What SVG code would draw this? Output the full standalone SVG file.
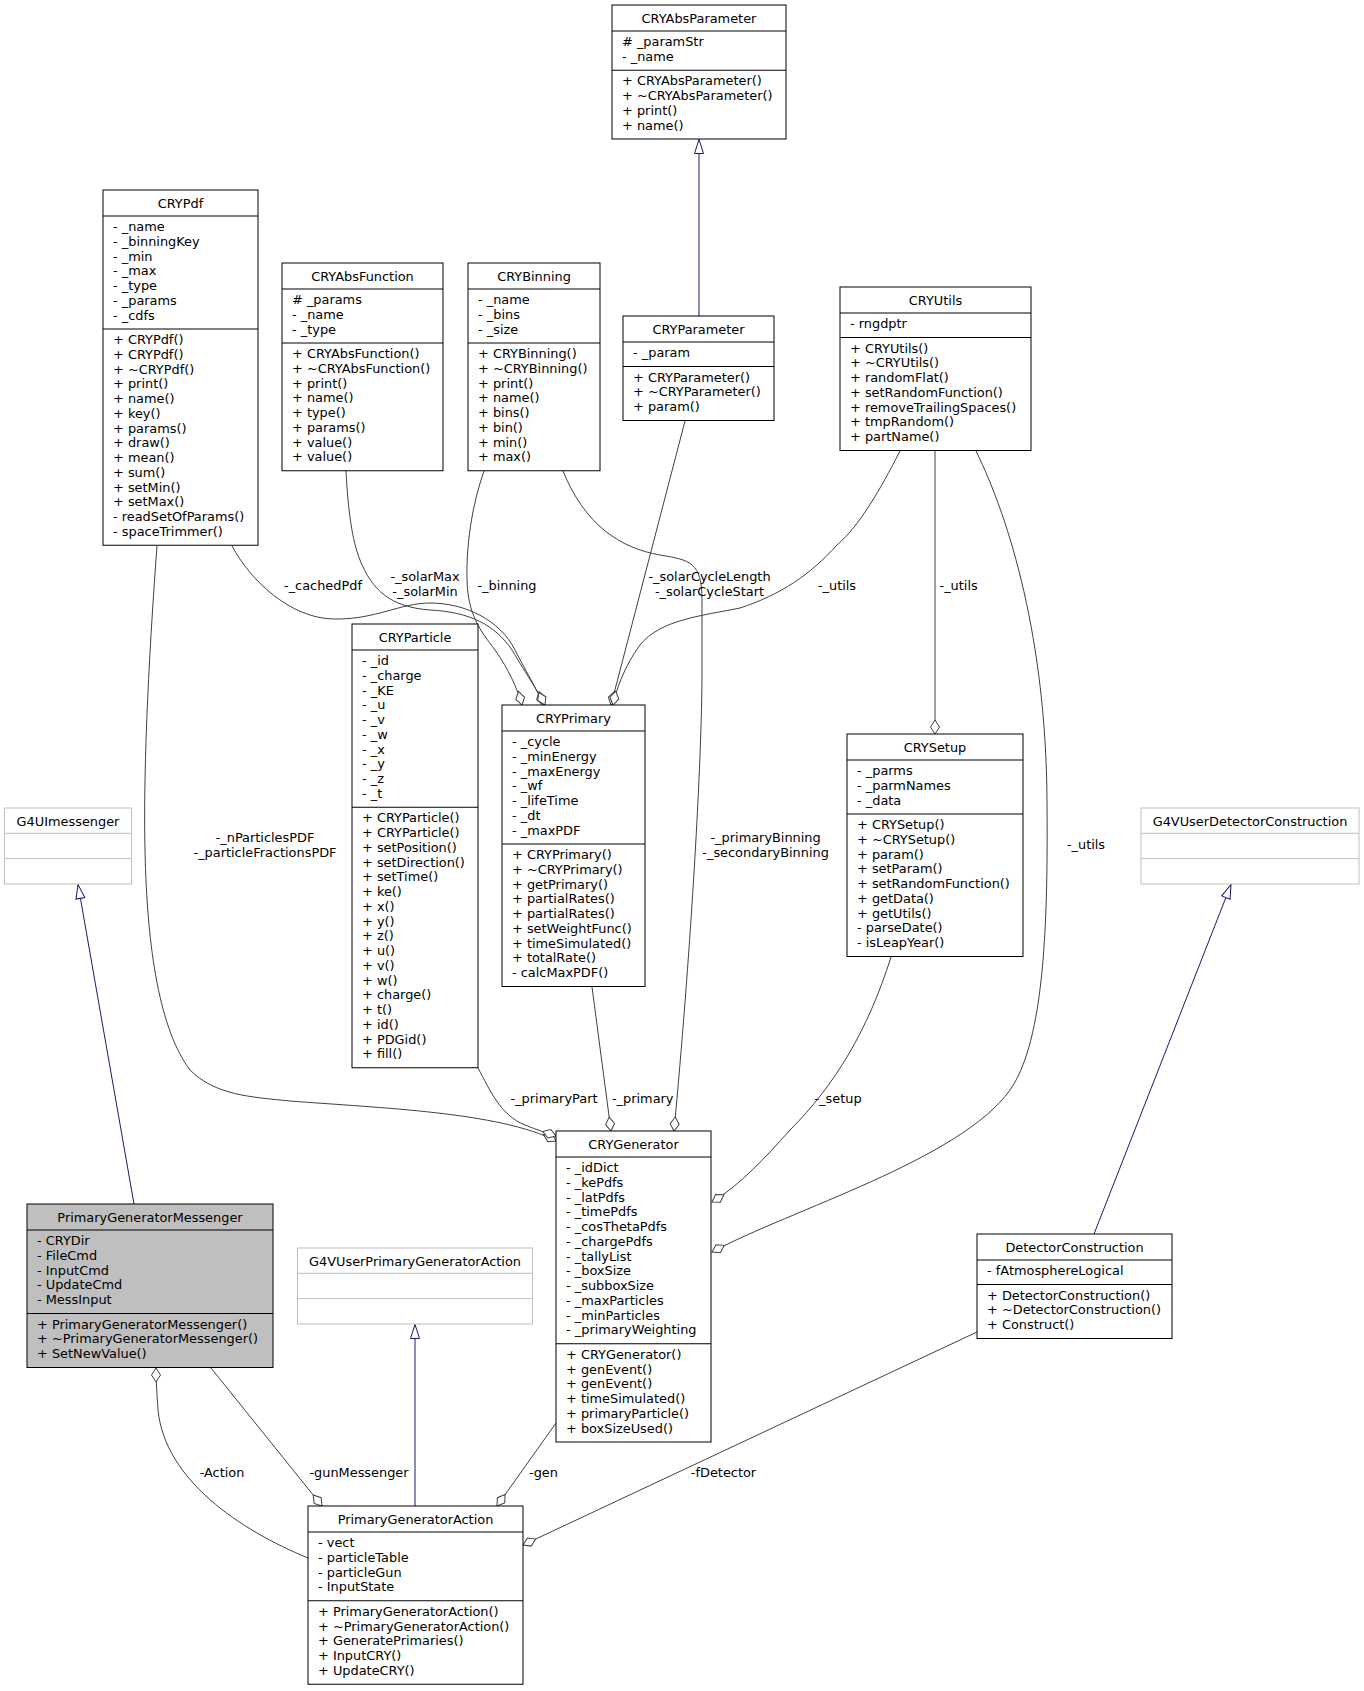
<svg xmlns="http://www.w3.org/2000/svg" width="1364" height="1691" viewBox="0 0 1364 1691">
<style>
text{font-family:"DejaVu Sans","Liberation Sans",sans-serif;font-size:12.9px;fill:#000}
.m{text-anchor:middle}
.box{fill:#fff;stroke:#000;stroke-width:1}
.ext{fill:#fff;stroke:#bfbfbf;stroke-width:1}
.cur{fill:#bfbfbf;stroke:#000;stroke-width:1}
.sep{stroke:#000;stroke-width:1}
.sepx{stroke:#bfbfbf;stroke-width:1}
.e{fill:none;stroke:#404040;stroke-width:1;marker-end:url(#dia)}
.i{fill:none;stroke:#191970;stroke-width:1;marker-end:url(#tri)}
</style>
<defs>
<marker id="dia" markerUnits="userSpaceOnUse" markerWidth="16" markerHeight="12" refX="14" refY="5" orient="auto" overflow="visible">
<path d="M0,5 L7,0.5 L14,5 L7,9.5 Z" fill="#fff" stroke="#404040" stroke-width="1"/>
</marker>
<marker id="tri" markerUnits="userSpaceOnUse" markerWidth="15" markerHeight="11" refX="14" refY="5" orient="auto" overflow="visible">
<path d="M0,0.5 L14,5 L0,9.5 Z" fill="#fff" stroke="#191970" stroke-width="1"/>
</marker>
</defs>
<rect width="1364" height="1691" fill="#fff"/>
<g id="edges">
<path class="i" d="M699,316 L699,139.5"/>
<path class="i" d="M134,1204 L78,884.5"/>
<path class="i" d="M1094,1234 L1231,884.5"/>
<path class="i" d="M415,1506 L415,1324.5"/>
<path class="e" d="M157,546 C150,640 143,760 145,850 C147,950 160,1030 190,1070 C215,1095 250,1097 290,1101 C380,1108 500,1112 556,1141"/>
<path class="e" d="M478,1068 C490,1090 500,1115 525,1125 C537,1130 547,1133 556,1136"/>
<path class="e" d="M592,987 L611,1131"/>
<path class="e" d="M563,471 C585,525 620,548 660,555 C690,560 702,562 702,600 L702,680 C701,780 690,960 674,1131"/>
<path class="e" d="M891,957 C868,1030 835,1085 790,1130 C765,1158 740,1185 712,1202"/>
<path class="e" d="M976,451 C1010,520 1046,640 1047,800 C1048,920 1045,1040 1010,1090 C960,1160 790,1210 712,1252"/>
<path class="e" d="M556,1423 L497,1506"/>
<path class="e" d="M211,1368 L322,1506"/>
<path class="e" d="M308,1558 C240,1530 165,1480 158,1410 C157,1395 156,1380 156,1368"/>
<path class="e" d="M977,1332 L523,1545"/>
<path class="e" d="M232,546 C250,580 290,618 333,619 C375,620 400,603 430,603 C465,603 500,620 515,650 C528,675 540,695 543,705"/>
<path class="e" d="M346,471 C348,510 352,540 360,560 C372,590 390,607 430,610 C470,612 495,625 512,650 C527,675 540,695 545,705"/>
<path class="e" d="M484,471 C472,505 466,545 467,580 C468,615 480,630 495,650 C508,668 518,690 522,705"/>
<path class="e" d="M685,421 L611,705"/>
<path class="e" d="M900,451 C880,490 860,525 837,545 C810,575 780,595 740,608 C700,616 660,620 640,645 C625,665 616,690 613,705"/>
<path class="e" d="M935,451 L935,734"/>
<text class="m" x="265" y="841.5">-_nParticlesPDF</text>
<text class="m" x="265" y="856.5">-_particleFractionsPDF</text>
<text class="m" x="323" y="589.5">-_cachedPdf</text>
<text class="m" x="425" y="580.5">-_solarMax</text>
<text class="m" x="425" y="595.5">-_solarMin</text>
<text class="m" x="507" y="589.5">-_binning</text>
<text class="m" x="709.5" y="580.5">-_solarCycleLength</text>
<text class="m" x="709.5" y="595.5">-_solarCycleStart</text>
<text class="m" x="837" y="589.5">-_utils</text>
<text class="m" x="958.6" y="589.5">-_utils</text>
<text class="m" x="765.6" y="841.5">-_primaryBinning</text>
<text class="m" x="765.6" y="856.5">-_secondaryBinning</text>
<text class="m" x="1086" y="848.5">-_utils</text>
<text class="m" x="554" y="1102.5">-_primaryPart</text>
<text class="m" x="642.7" y="1102.5">-_primary</text>
<text class="m" x="838" y="1102.5">-_setup</text>
<text class="m" x="222" y="1476.5">-Action</text>
<text class="m" x="359" y="1476.5">-gunMessenger</text>
<text class="m" x="543.5" y="1476.5">-gen</text>
<text class="m" x="723.5" y="1476.5">-fDetector</text>
</g>
<g id="nodes">
<g id="CRYAbsParameter">
<rect class="box" x="612" y="5" width="174" height="134"/>
<line class="sep" x1="612" y1="31" x2="786" y2="31"/><line class="sep" x1="612" y1="70.25" x2="786" y2="70.25"/>
<text class="m" x="699" y="23">CRYAbsParameter</text>
<text x="622" y="46"># _paramStr</text><text x="622" y="60.75">- _name</text>
<text x="622" y="85.25">+ CRYAbsParameter()</text><text x="622" y="100">+ ~CRYAbsParameter()</text><text x="622" y="114.75">+ print()</text><text x="622" y="129.5">+ name()</text>
</g>
<g id="CRYPdf">
<rect class="box" x="103" y="190" width="155" height="355.25"/>
<line class="sep" x1="103" y1="216" x2="258" y2="216"/><line class="sep" x1="103" y1="329" x2="258" y2="329"/>
<text class="m" x="180.5" y="208">CRYPdf</text>
<text x="113" y="231">- _name</text><text x="113" y="245.75">- _binningKey</text><text x="113" y="260.5">- _min</text><text x="113" y="275.25">- _max</text><text x="113" y="290">- _type</text><text x="113" y="304.75">- _params</text><text x="113" y="319.5">- _cdfs</text>
<text x="113" y="344">+ CRYPdf()</text><text x="113" y="358.75">+ CRYPdf()</text><text x="113" y="373.5">+ ~CRYPdf()</text><text x="113" y="388.25">+ print()</text><text x="113" y="403">+ name()</text><text x="113" y="417.75">+ key()</text><text x="113" y="432.5">+ params()</text><text x="113" y="447.25">+ draw()</text><text x="113" y="462">+ mean()</text><text x="113" y="476.75">+ sum()</text><text x="113" y="491.5">+ setMin()</text><text x="113" y="506.25">+ setMax()</text><text x="113" y="521">- readSetOfParams()</text><text x="113" y="535.75">- spaceTrimmer()</text>
</g>
<g id="CRYAbsFunction">
<rect class="box" x="282" y="263" width="161" height="207.75"/>
<line class="sep" x1="282" y1="289" x2="443" y2="289"/><line class="sep" x1="282" y1="343" x2="443" y2="343"/>
<text class="m" x="362.5" y="281">CRYAbsFunction</text>
<text x="292" y="304"># _params</text><text x="292" y="318.75">- _name</text><text x="292" y="333.5">- _type</text>
<text x="292" y="358">+ CRYAbsFunction()</text><text x="292" y="372.75">+ ~CRYAbsFunction()</text><text x="292" y="387.5">+ print()</text><text x="292" y="402.25">+ name()</text><text x="292" y="417">+ type()</text><text x="292" y="431.75">+ params()</text><text x="292" y="446.5">+ value()</text><text x="292" y="461.25">+ value()</text>
</g>
<g id="CRYBinning">
<rect class="box" x="468" y="263" width="132" height="207.75"/>
<line class="sep" x1="468" y1="289" x2="600" y2="289"/><line class="sep" x1="468" y1="343" x2="600" y2="343"/>
<text class="m" x="534" y="281">CRYBinning</text>
<text x="478" y="304">- _name</text><text x="478" y="318.75">- _bins</text><text x="478" y="333.5">- _size</text>
<text x="478" y="358">+ CRYBinning()</text><text x="478" y="372.75">+ ~CRYBinning()</text><text x="478" y="387.5">+ print()</text><text x="478" y="402.25">+ name()</text><text x="478" y="417">+ bins()</text><text x="478" y="431.75">+ bin()</text><text x="478" y="446.5">+ min()</text><text x="478" y="461.25">+ max()</text>
</g>
<g id="CRYParameter">
<rect class="box" x="623" y="316" width="151" height="104.5"/>
<line class="sep" x1="623" y1="342" x2="774" y2="342"/><line class="sep" x1="623" y1="366.5" x2="774" y2="366.5"/>
<text class="m" x="698.5" y="334">CRYParameter</text>
<text x="633" y="357">- _param</text>
<text x="633" y="381.5">+ CRYParameter()</text><text x="633" y="396.25">+ ~CRYParameter()</text><text x="633" y="411">+ param()</text>
</g>
<g id="CRYUtils">
<rect class="box" x="840" y="287" width="191" height="163.5"/>
<line class="sep" x1="840" y1="313" x2="1031" y2="313"/><line class="sep" x1="840" y1="337.5" x2="1031" y2="337.5"/>
<text class="m" x="935.5" y="305">CRYUtils</text>
<text x="850" y="328">- rngdptr</text>
<text x="850" y="352.5">+ CRYUtils()</text><text x="850" y="367.25">+ ~CRYUtils()</text><text x="850" y="382">+ randomFlat()</text><text x="850" y="396.75">+ setRandomFunction()</text><text x="850" y="411.5">+ removeTrailingSpaces()</text><text x="850" y="426.25">+ tmpRandom()</text><text x="850" y="441">+ partName()</text>
</g>
<g id="CRYParticle">
<rect class="box" x="352" y="624" width="126" height="443.75"/>
<line class="sep" x1="352" y1="650" x2="478" y2="650"/><line class="sep" x1="352" y1="807.25" x2="478" y2="807.25"/>
<text class="m" x="415" y="642">CRYParticle</text>
<text x="362" y="665">- _id</text><text x="362" y="679.75">- _charge</text><text x="362" y="694.5">- _KE</text><text x="362" y="709.25">- _u</text><text x="362" y="724">- _v</text><text x="362" y="738.75">- _w</text><text x="362" y="753.5">- _x</text><text x="362" y="768.25">- _y</text><text x="362" y="783">- _z</text><text x="362" y="797.75">- _t</text>
<text x="362" y="822.25">+ CRYParticle()</text><text x="362" y="837">+ CRYParticle()</text><text x="362" y="851.75">+ setPosition()</text><text x="362" y="866.5">+ setDirection()</text><text x="362" y="881.25">+ setTime()</text><text x="362" y="896">+ ke()</text><text x="362" y="910.75">+ x()</text><text x="362" y="925.5">+ y()</text><text x="362" y="940.25">+ z()</text><text x="362" y="955">+ u()</text><text x="362" y="969.75">+ v()</text><text x="362" y="984.5">+ w()</text><text x="362" y="999.25">+ charge()</text><text x="362" y="1014">+ t()</text><text x="362" y="1028.75">+ id()</text><text x="362" y="1043.5">+ PDGid()</text><text x="362" y="1058.25">+ fill()</text>
</g>
<g id="CRYPrimary">
<rect class="box" x="502" y="705" width="143" height="281.5"/>
<line class="sep" x1="502" y1="731" x2="645" y2="731"/><line class="sep" x1="502" y1="844" x2="645" y2="844"/>
<text class="m" x="573.5" y="723">CRYPrimary</text>
<text x="512" y="746">- _cycle</text><text x="512" y="760.75">- _minEnergy</text><text x="512" y="775.5">- _maxEnergy</text><text x="512" y="790.25">- _wf</text><text x="512" y="805">- _lifeTime</text><text x="512" y="819.75">- _dt</text><text x="512" y="834.5">- _maxPDF</text>
<text x="512" y="859">+ CRYPrimary()</text><text x="512" y="873.75">+ ~CRYPrimary()</text><text x="512" y="888.5">+ getPrimary()</text><text x="512" y="903.25">+ partialRates()</text><text x="512" y="918">+ partialRates()</text><text x="512" y="932.75">+ setWeightFunc()</text><text x="512" y="947.5">+ timeSimulated()</text><text x="512" y="962.25">+ totalRate()</text><text x="512" y="977">- calcMaxPDF()</text>
</g>
<g id="CRYSetup">
<rect class="box" x="847" y="734" width="176" height="222.5"/>
<line class="sep" x1="847" y1="760" x2="1023" y2="760"/><line class="sep" x1="847" y1="814" x2="1023" y2="814"/>
<text class="m" x="935" y="752">CRYSetup</text>
<text x="857" y="775">- _parms</text><text x="857" y="789.75">- _parmNames</text><text x="857" y="804.5">- _data</text>
<text x="857" y="829">+ CRYSetup()</text><text x="857" y="843.75">+ ~CRYSetup()</text><text x="857" y="858.5">+ param()</text><text x="857" y="873.25">+ setParam()</text><text x="857" y="888">+ setRandomFunction()</text><text x="857" y="902.75">+ getData()</text><text x="857" y="917.5">+ getUtils()</text><text x="857" y="932.25">- parseDate()</text><text x="857" y="947">- isLeapYear()</text>
</g>
<g id="G4UImessenger">
<rect class="ext" x="4.5" y="808" width="127" height="76"/>
<line class="sepx" x1="4.5" y1="833.3" x2="131.5" y2="833.3"/><line class="sepx" x1="4.5" y1="858.6" x2="131.5" y2="858.6"/>
<text class="m" x="68" y="826">G4UImessenger</text>
</g>
<g id="G4VUserDetectorConstruction">
<rect class="ext" x="1141" y="808" width="218" height="76"/>
<line class="sepx" x1="1141" y1="833.3" x2="1359" y2="833.3"/><line class="sepx" x1="1141" y1="858.6" x2="1359" y2="858.6"/>
<text class="m" x="1250" y="826">G4VUserDetectorConstruction</text>
</g>
<g id="CRYGenerator">
<rect class="box" x="556" y="1131" width="155" height="311"/>
<line class="sep" x1="556" y1="1157" x2="711" y2="1157"/><line class="sep" x1="556" y1="1343.75" x2="711" y2="1343.75"/>
<text class="m" x="633.5" y="1149">CRYGenerator</text>
<text x="566" y="1172">- _idDict</text><text x="566" y="1186.75">- _kePdfs</text><text x="566" y="1201.5">- _latPdfs</text><text x="566" y="1216.25">- _timePdfs</text><text x="566" y="1231">- _cosThetaPdfs</text><text x="566" y="1245.75">- _chargePdfs</text><text x="566" y="1260.5">- _tallyList</text><text x="566" y="1275.25">- _boxSize</text><text x="566" y="1290">- _subboxSize</text><text x="566" y="1304.75">- _maxParticles</text><text x="566" y="1319.5">- _minParticles</text><text x="566" y="1334.25">- _primaryWeighting</text>
<text x="566" y="1358.75">+ CRYGenerator()</text><text x="566" y="1373.5">+ genEvent()</text><text x="566" y="1388.25">+ genEvent()</text><text x="566" y="1403">+ timeSimulated()</text><text x="566" y="1417.75">+ primaryParticle()</text><text x="566" y="1432.5">+ boxSizeUsed()</text>
</g>
<g id="PrimaryGeneratorMessenger">
<rect class="cur" x="27" y="1204" width="246" height="163.5"/>
<line class="sep" x1="27" y1="1230" x2="273" y2="1230"/><line class="sep" x1="27" y1="1313.5" x2="273" y2="1313.5"/>
<text class="m" x="150" y="1222">PrimaryGeneratorMessenger</text>
<text x="37" y="1245">- CRYDir</text><text x="37" y="1259.75">- FileCmd</text><text x="37" y="1274.5">- InputCmd</text><text x="37" y="1289.25">- UpdateCmd</text><text x="37" y="1304">- MessInput</text>
<text x="37" y="1328.5">+ PrimaryGeneratorMessenger()</text><text x="37" y="1343.25">+ ~PrimaryGeneratorMessenger()</text><text x="37" y="1358">+ SetNewValue()</text>
</g>
<g id="G4VUserPrimaryGeneratorAction">
<rect class="ext" x="297.5" y="1248" width="235" height="76"/>
<line class="sepx" x1="297.5" y1="1273.3" x2="532.5" y2="1273.3"/><line class="sepx" x1="297.5" y1="1298.6" x2="532.5" y2="1298.6"/>
<text class="m" x="415" y="1266">G4VUserPrimaryGeneratorAction</text>
</g>
<g id="DetectorConstruction">
<rect class="box" x="977" y="1234" width="195" height="104.5"/>
<line class="sep" x1="977" y1="1260" x2="1172" y2="1260"/><line class="sep" x1="977" y1="1284.5" x2="1172" y2="1284.5"/>
<text class="m" x="1074.5" y="1252">DetectorConstruction</text>
<text x="987" y="1275">- fAtmosphereLogical</text>
<text x="987" y="1299.5">+ DetectorConstruction()</text><text x="987" y="1314.25">+ ~DetectorConstruction()</text><text x="987" y="1329">+ Construct()</text>
</g>
<g id="PrimaryGeneratorAction">
<rect class="box" x="308" y="1506" width="215" height="178.25"/>
<line class="sep" x1="308" y1="1532" x2="523" y2="1532"/><line class="sep" x1="308" y1="1600.75" x2="523" y2="1600.75"/>
<text class="m" x="415.5" y="1524">PrimaryGeneratorAction</text>
<text x="318" y="1547">- vect</text><text x="318" y="1561.75">- particleTable</text><text x="318" y="1576.5">- particleGun</text><text x="318" y="1591.25">- InputState</text>
<text x="318" y="1615.75">+ PrimaryGeneratorAction()</text><text x="318" y="1630.5">+ ~PrimaryGeneratorAction()</text><text x="318" y="1645.25">+ GeneratePrimaries()</text><text x="318" y="1660">+ InputCRY()</text><text x="318" y="1674.75">+ UpdateCRY()</text>
</g>
</g>
</svg>
